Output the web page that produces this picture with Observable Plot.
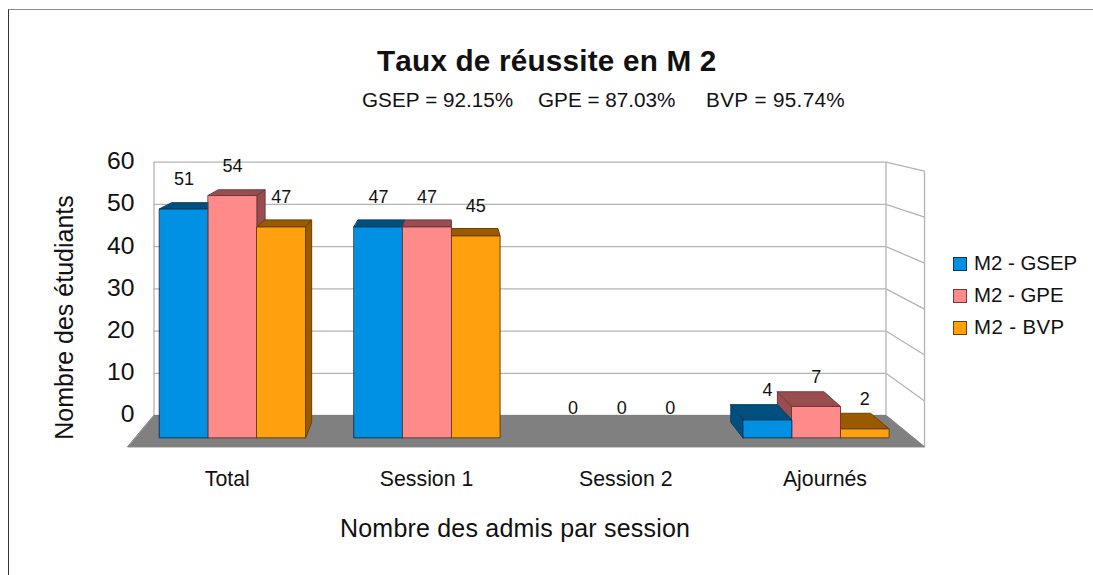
<!DOCTYPE html>
<html><head><meta charset="utf-8">
<script src="https://cdn.jsdelivr.net/npm/d3@7"></script>
<script src="https://cdn.jsdelivr.net/npm/@observablehq/plot@0.6"></script>
<style>
html,body{margin:0;padding:0;background:#fff;overflow:hidden}
#page{position:relative;width:1093px;height:575px;font-family:"Liberation Sans",sans-serif;color:#111}
#frame{position:absolute;left:8px;top:9px;right:0;bottom:0;border-left:1.5px solid #333;border-top:1px solid #8a8a8a}
#page svg{position:absolute;left:0;top:0;background:transparent}
.t{position:absolute;white-space:nowrap;line-height:1;font-kerning:none}
.sw{position:absolute;width:12px;height:12px;border:1px solid}
</style></head><body>
<div id="page"><div id="frame"></div></div>
<script>
const categories = ["Total", "Session 1", "Session 2", "Ajournés"];
const seriesNames = ["M2 - GSEP", "M2 - GPE", "M2 - BVP"];
const gsep = [51, 47, 0, 4];
const gpe = [54, 47, 0, 7];
const bvp = [47, 45, 0, 2];
const seriesValues = [gsep, gpe, bvp];
const front = ["#0090e4", "#ff8a8a", "#ffa00f"];
const shade = ["#00507f", "#994d4f", "#995a00"];
const edge = ["#003a5c", "#6b3a3c", "#6b4000"];
const yTicks = [0, 10, 20, 30, 40, 50, 60];
const subtitles = [["GSEP = 92.15%", 362, 0], ["GPE = 87.03%", 538, 0], ["BVP = 95.74%", 706, 0.33]];

// perspective of the 3D box, in data units (depth factors relative to the back wall)
const VX = 5.98, VY = 84.1, K_BAR_FRONT = 1.063, K_BAR_BACK = 1.018, K_FLOOR = 1.0885;
const X0 = -0.5, X1 = 15.5;
const pr = (x, v, k) => ({x: VX + (x - VX) * k, y: VY + (v - VY) * k});
const poly = (pts, fill, stroke, sw = 1) => Plot.line(pts, {x: "x", y: "y", curve: "linear-closed", fill, stroke, strokeWidth: sw});

const bars = [];
categories.forEach((c, i) => seriesValues.forEach((vals, j) => {
  const x = i * 4 + j;
  if (vals[i] > 0) bars.push({x, v: vals[i], j});
}));
bars.sort((a, b) => Math.abs(b.x + .5 - VX) - Math.abs(a.x + .5 - VX));

const barMarks = bars.flatMap(({x, v, j}) => {
  const kf = K_BAR_FRONT, kb = K_BAR_BACK;
  const xr = x + 1;
  const m = [];
  m.push(poly([pr(x, v, kf), pr(xr, v, kf), pr(xr, v, kb), pr(x, v, kb)], shade[j], edge[j]));
  if (pr(xr, 0, kf).x < VX) m.push(poly([pr(xr, 0, kf), pr(xr, v, kf), pr(xr, v, kb), pr(xr, 0, kb)], shade[j], edge[j]));
  if (pr(x, 0, kf).x > VX) m.push(poly([pr(x, 0, kf), pr(x, v, kf), pr(x, v, kb), pr(x, 0, kb)], shade[j], edge[j]));
  m.push(poly([pr(x, 0, kf), pr(xr, 0, kf), pr(xr, v, kf), pr(x, v, kf)], front[j], edge[j]));
  return m;
});

const labels = [];
categories.forEach((c, i) => seriesValues.forEach((vals, j) => {
  const p = pr(i * 4 + j + .5, vals[i], K_BAR_FRONT);
  labels.push({x: p.x, y: p.y, t: String(vals[i])});
}));

// category labels sit at the centre of each quarter of the floor's front edge
const fl = pr(X0, 0, K_FLOOR).x, fr = pr(X1, 0, K_FLOOR).x;
const catTicks = categories.map((c, i) => fl + (fr - fl) * (i + .5) / categories.length);
const catName = new Map(catTicks.map((t, i) => [t, categories[i]]));

const chart = Plot.plot({
  width: 1093, height: 575,
  marginLeft: 153.5, marginRight: 207.5, marginTop: 161.7, marginBottom: 160,
  style: {fontFamily: '"Liberation Sans", sans-serif', background: "transparent", color: "#111"},
  x: {domain: [X0, X1], axis: null},
  y: {domain: [0, 60], axis: null},
  marks: [
    Plot.gridY(yTicks, {stroke: "#b3b3b3", strokeOpacity: 1, strokeWidth: 1.3}),
    Plot.link(yTicks, {x1: X1, y1: d => d, x2: pr(X1, 0, K_FLOOR).x, y2: d => pr(X1, d, K_FLOOR).y, stroke: "#b3b3b3", strokeWidth: 1.3}),
    Plot.link([0], {x1: pr(X1, 60, K_FLOOR).x, y1: pr(X1, 60, K_FLOOR).y, x2: pr(X1, 0, K_FLOOR).x, y2: pr(X1, 0, K_FLOOR).y, stroke: "#b3b3b3", strokeWidth: 1.3}),
    Plot.ruleX([X0, X1], {y1: 0, y2: 60, stroke: "#b3b3b3", strokeWidth: 1.3}),
    poly([pr(X0, 0, 1), pr(X1, 0, 1), pr(X1, 0, K_FLOOR), pr(X0, 0, K_FLOOR)], "#808080", "#808080"),
    ...barMarks,
    Plot.text(labels, {x: "x", y: "y", text: "t", dy: -29.5, fontSize: 18, fill: "#111"}),
    Plot.axisY(yTicks, {anchor: "left", tickSize: 0, tickPadding: 19.5, fontSize: 24.7, dy: -1, label: null, tickFormat: d => d}),
    Plot.axisX(catTicks, {anchor: "bottom", tickSize: 0, tickPadding: 55, fontSize: 21.3, label: null, tickFormat: d => catName.get(d)})
  ]
});
const page = document.getElementById("page");
page.appendChild(chart);

function txt(s, left, cy, size, extra = {}) {
  const d = document.createElement("div");
  d.className = "t"; d.textContent = s;
  Object.assign(d.style, {left: left + "px", top: (cy - size / 2) + "px", fontSize: size + "px"}, extra);
  page.appendChild(d);
  return d;
}
txt("Taux de réussite en M 2", 377, 61, 29.7, {fontWeight: "bold", letterSpacing: "0.2px"});
subtitles.forEach(([s, x, ls]) => txt(s, x, 100, 20.7, {letterSpacing: ls + "px"}));
txt("Nombre des admis par session", 340, 528, 25, {letterSpacing: "0.2px"});
const yt = txt("Nombre des étudiants", 64, 317, 25);
yt.style.transformOrigin = "0 50%";
yt.style.transform = "rotate(-90deg) translateX(-50%)";
seriesNames.forEach((s, j) => {
  const cy = 263 + j * 32.3;
  const sw = document.createElement("div");
  sw.className = "sw";
  Object.assign(sw.style, {left: "953px", top: (cy - 6.5) + "px", background: front[j], borderColor: edge[j]});
  page.appendChild(sw);
  txt(s, 974, cy, 20.4, {letterSpacing: j === 2 ? "0.4px" : "0"});
});
</script>
</body></html>
